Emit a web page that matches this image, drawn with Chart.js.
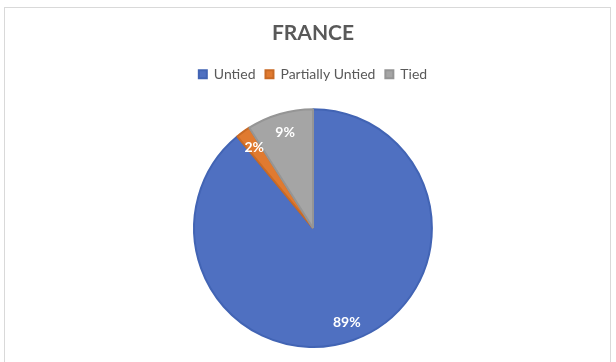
<!DOCTYPE html>
<html>
<head>
<meta charset="utf-8">
<script src="https://cdn.jsdelivr.net/npm/chart.js@4.4.1/dist/chart.umd.min.js"></script>
<style>
  html, body { margin: 0; padding: 0; background: #fff; }
  #wrap { position: relative; width: 616px; height: 362px; }
  #frame { position: absolute; left: 4px; top: 7px; width: 607px; height: 360px; border: 1px solid #d9d9d9; box-sizing: border-box; }
  canvas { position: absolute; left: 0; top: 0; }
</style>
</head>
<body>
<div id="wrap">
  <div id="frame"></div>
  <canvas id="myChart" width="616" height="362"></canvas>
</div>
<script>
const chartTitle = "FRANCE";
const categories = ["Untied", "Partially Untied", "Tied"];
const shares = [89, 2, 9];
const sliceColors = ["#4f70c1", "#e07a30", "#a5a5a5"];
const sliceEdges = ["#4264b4", "#c96a25", "#959595"];

// extra gap under the legend
const legendGap = {
  id: "legendGap",
  beforeInit(chart) {
    const origFit = chart.legend.fit;
    chart.legend.fit = function fit() {
      origFit.bind(chart.legend)();
      this.height += 17;
    };
  },
};

// white percentage labels inside each slice
const sliceLabels = {
  id: "sliceLabels",
  afterDatasetsDraw(chart) {
    const ctx = chart.ctx;
    const meta = chart.getDatasetMeta(0);
    const total = shares.reduce((a, b) => a + b, 0);
    ctx.save();
    ctx.fillStyle = "#ffffff";
    ctx.font = "bold 14px Lato, sans-serif";
    ctx.textAlign = "center";
    ctx.textBaseline = "middle";
    meta.data.forEach((arc, i) => {
      const mid = (arc.startAngle + arc.endAngle) / 2;
      const r = arc.outerRadius * 0.84;
      const x = arc.x + Math.cos(mid) * r;
      const y = arc.y + Math.sin(mid) * r;
      ctx.fillText(Math.round(shares[i] / total * 100) + "%", x, y);
    });
    ctx.restore();
  },
};

const ctx = document.getElementById("myChart");
const myChart = new Chart(ctx, {
  type: "pie",
  data: {
    labels: categories,
    datasets: [
      {
        data: shares,
        backgroundColor: sliceColors,
        borderColor: sliceEdges,
        borderWidth: 2,
      },
    ],
  },
  options: {
    responsive: false,
    animation: false,
    layout: { padding: { top: 0, bottom: 14, left: 10 } },
    plugins: {
      title: {
        display: true,
        text: chartTitle,
        color: "#595959",
        font: { family: "Lato", size: 21, weight: "bold" },
        padding: { top: 21, bottom: 11 },
      },
      legend: {
        position: "top",
        labels: {
          color: "#595959",
          font: { family: "Lato", size: 14 },
          boxWidth: 8,
          boxHeight: 8,
          padding: 10,
        },
      },
      tooltip: { enabled: false },
    },
  },
  plugins: [sliceLabels, legendGap],
});
</script>
</body>
</html>
